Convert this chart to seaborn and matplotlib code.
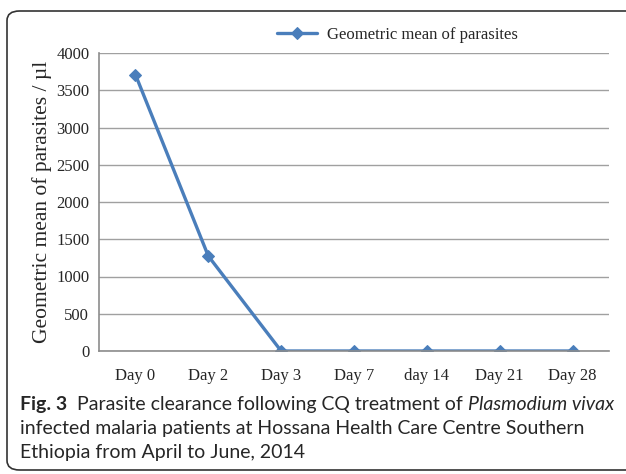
import numpy as np
import pandas as pd
import matplotlib
matplotlib.use("Agg")
import matplotlib.pyplot as plt
import seaborn as sns
from matplotlib.patches import FancyBboxPatch

# données
days = ["Day 0", "Day 2", "Day 3", "Day 7", "day 14", "Day 21", "Day 28"]
geo_mean = [3710, 1275, 0, 0, 0, 0, 0]
yticks = [0, 500, 1000, 1500, 2000, 2500, 3000, 3500, 4000]

df = pd.DataFrame({"day": days, "parasites": geo_mean})

sns.set_style("white")
serif = "Liberation Serif"
cap_font = "Lato"

fig = plt.figure(figsize=(6.26, 4.74), dpi=100)
ax = fig.add_axes([99 / 626, 1 - 351 / 474, 510 / 626, 298 / 474])

sns.lineplot(data=df, x="day", y="parasites", ax=ax, color="#4a7ebb",
             marker="D", markersize=6.5, markeredgecolor="#4a7ebb", linewidth=2.4,
             label="Geometric mean of parasites", sort=False)

ax.set_xlim(-0.5, len(days) - 0.5)
ax.set_ylim(0, 4000)
ax.set_yticks(yticks)
ax.set_yticklabels([str(v) for v in yticks], fontfamily=serif, fontsize=12)
ax.set_xticks(range(len(days)))
ax.set_xticklabels(days, fontfamily=serif, fontsize=12)
ax.tick_params(axis="y", length=0, pad=7)
ax.tick_params(axis="x", length=0, pad=12)
ax.grid(axis="y", color="#a0a0a0", linewidth=1)
ax.set_axisbelow(True)
for s in ["top", "right"]:
    ax.spines[s].set_visible(False)
for s in ["left", "bottom"]:
    ax.spines[s].set_color("#8c8c8c")
    ax.spines[s].set_linewidth(1.2)
ax.set_xlabel("")
ax.set_ylabel("Geometric mean of parasites / µl", fontfamily=serif, fontsize=15.5, labelpad=3)

leg = ax.legend(loc="center", bbox_to_anchor=(397 / 626, 1 - 35 / 474),
                bbox_transform=fig.transFigure, frameon=False,
                prop={"family": serif, "size": 12}, handlelength=2.4, handletextpad=0.6)

# cadre arrondi
box = FancyBboxPatch((7 / 626, 4 / 474), 640 / 626, 459 / 474, transform=fig.transFigure,
                     boxstyle="round,pad=0,rounding_size=0.02", facecolor="none",
                     edgecolor="#333333", linewidth=1.2, clip_on=False)
fig.patches.append(box)

# légende de figure
cs = 14
t1 = fig.text(20 / 626, 1 - 410 / 474, "Fig. 3", fontfamily=cap_font, fontweight="bold", fontsize=cs)
t2 = ax.annotate("  Parasite clearance following CQ treatment of ", xy=(1, 0), xycoords=t1,
                 va="bottom", fontfamily=cap_font, fontsize=cs, annotation_clip=False)
t3 = ax.annotate("Plasmodium vivax", xy=(1, 0), xycoords=t2, va="bottom",
                 fontfamily=cap_font, fontstyle="italic", fontsize=cs, annotation_clip=False)
fig.text(20 / 626, 1 - 434 / 474, "infected malaria patients at Hossana Health Care Centre Southern",
         fontfamily=cap_font, fontsize=cs)
fig.text(20 / 626, 1 - 458 / 474, "Ethiopia from April to June, 2014", fontfamily=cap_font, fontsize=cs)

fig.savefig("out.png", dpi=100)
